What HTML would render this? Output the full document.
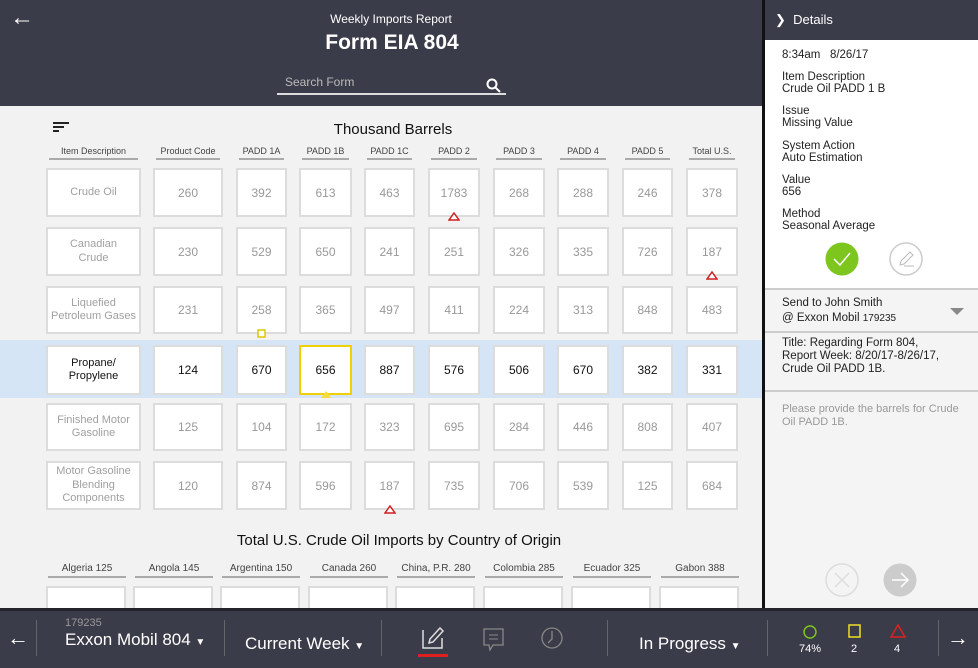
<!DOCTYPE html>
<html><head><meta charset="utf-8">
<style>
*{box-sizing:border-box;margin:0;padding:0}
body{width:978px;height:668px;overflow:hidden;background:#f2f2f2;font-family:"Liberation Sans",sans-serif;position:relative}
.abs{position:absolute}
.box{position:absolute;background:#fff;border:2px solid #dcdcdc;display:flex;align-items:center;justify-content:center;text-align:center;font-size:12px;color:#999;line-height:14px}
.hdr{position:absolute;font-size:9px;color:#444;text-align:center;border-bottom:2px solid #aaa;padding-bottom:2px}
.lbl{font-size:11.5px;color:#222;line-height:12px}
</style></head><body>
<div class="abs" style="left:0;top:0;width:762px;height:106px;background:#3b3c49"></div>
<div class="abs" style="left:10px;top:4px;color:#fff;font-size:24px">&#8592;</div>
<div class="abs" style="left:0;width:782px;top:12px;text-align:center;color:#fff;font-size:12px">Weekly Imports Report</div>
<div class="abs" style="left:0;width:784px;top:31px;text-align:center;color:#fff;font-size:21px;font-weight:bold">Form EIA 804</div>
<div class="abs" style="left:277px;top:75px;width:229px;height:20px;border-bottom:2px solid #ddd;color:#bbb;font-size:12px;padding-left:8px">Search Form</div>
<svg class="abs" style="left:486px;top:78px" width="16" height="16"><circle cx="6" cy="6" r="4.5" stroke="#fff" stroke-width="2" fill="none"/><line x1="9.5" y1="9.5" x2="14" y2="14" stroke="#fff" stroke-width="2"/></svg>

<svg class="abs" style="left:53px;top:122px" width="18" height="10"><rect x="0" y="0" width="16" height="2" fill="#222"/><rect x="0" y="4" width="11" height="2" fill="#222"/><rect x="0" y="8" width="6" height="2" fill="#222"/></svg>
<div class="abs" style="left:300px;width:186px;top:121px;text-align:center;font-size:15px;color:#111">Thousand Barrels</div>
<div class="abs" style="left:0;top:340px;width:762px;height:58px;background:#d6e5f5"></div>
<div id="table"></div>

<div class="abs" style="left:0;width:798px;top:532px;text-align:center;font-size:15px;color:#111">Total U.S. Crude Oil Imports by Country of Origin</div>
<div id="countries"></div>

<div class="abs" style="left:762px;top:0;width:3px;height:608px;background:#111"></div>
<div class="abs" style="left:765px;top:0;width:213px;height:608px;background:#f4f4f4"></div>
<div class="abs" style="left:765px;top:0;width:213px;height:40px;background:#3b3c49;color:#fff;font-size:13px;padding:12px 0 0 10px">&#x276F;&nbsp; Details</div>
<div class="abs" style="left:765px;top:40px;width:213px;height:248px;background:#fff"></div>
<div class="abs lbl" style="left:782px;top:49px">8:34am &nbsp;&nbsp;8/26/17</div>
<div class="abs lbl" style="left:782px;top:71px">Item Description<br>Crude Oil PADD 1 B</div>
<div class="abs lbl" style="left:782px;top:105px">Issue<br>Missing Value</div>
<div class="abs lbl" style="left:782px;top:140px">System Action<br>Auto Estimation</div>
<div class="abs lbl" style="left:782px;top:174px">Value<br>656</div>
<div class="abs lbl" style="left:782px;top:208px">Method<br>Seasonal Average</div>
<svg class="abs" style="left:825px;top:242px" width="34" height="34"><circle cx="17" cy="17" r="16.5" fill="#7dc61e"/><polyline points="9,17 15,23 25,11" stroke="#fff" stroke-width="1.5" fill="none"/></svg>
<svg class="abs" style="left:889px;top:242px" width="34" height="34"><circle cx="17" cy="17" r="16" fill="#fff" stroke="#ccc" stroke-width="1.5"/><path d="M11 23 L12 19 L21 10 L24 13 L15 22 Z" stroke="#bbb" fill="none"/><line x1="15" y1="24" x2="25" y2="24" stroke="#bbb"/></svg>
<div class="abs" style="left:765px;top:288px;width:213px;height:2px;background:#ccc"></div>
<div class="abs lbl" style="left:782px;top:296px;line-height:15px">Send to John Smith<br>@ Exxon Mobil <span style="font-size:10px">179235</span></div>
<svg class="abs" style="left:950px;top:308px" width="14" height="8"><polygon points="0,0 14,0 7,7" fill="#888"/></svg>
<div class="abs" style="left:765px;top:331px;width:213px;height:2px;background:#ccc"></div>
<div class="abs lbl" style="left:782px;top:337px;line-height:13px">Title: Regarding Form 804,<br>Report Week: 8/20/17-8/26/17,<br>Crude Oil PADD 1B.</div>
<div class="abs" style="left:765px;top:390px;width:213px;height:2px;background:#ccc"></div>
<div class="abs lbl" style="left:782px;top:403px;color:#999;line-height:13px;font-size:11px">Please provide the barrels for Crude<br>Oil PADD 1B.</div>
<svg class="abs" style="left:825px;top:563px" width="34" height="34"><circle cx="17" cy="17" r="16" fill="none" stroke="#ddd" stroke-width="1.5"/><line x1="10" y1="10" x2="24" y2="24" stroke="#ddd" stroke-width="1.5"/><line x1="24" y1="10" x2="10" y2="24" stroke="#ddd" stroke-width="1.5"/></svg>
<svg class="abs" style="left:883px;top:563px" width="34" height="34"><circle cx="17" cy="17" r="16.5" fill="#ccc"/><line x1="9" y1="17" x2="25" y2="17" stroke="#fff" stroke-width="1.5"/><polyline points="18,10 25,17 18,24" stroke="#fff" stroke-width="1.5" fill="none"/></svg>

<div class="abs" style="left:0;top:608px;width:978px;height:60px;background:#3b3c49;border-top:3px solid #23242c"></div>
<div class="abs" style="left:7px;top:625px;color:#fff;font-size:22px">&#8592;</div>
<div class="abs" style="left:36px;top:620px;width:1px;height:36px;background:#666"></div>
<div class="abs" style="left:65px;top:617px;color:#999;font-size:11px">179235</div>
<div class="abs" style="left:65px;top:630px;color:#fff;font-size:17px">Exxon Mobil 804 <span style="font-size:10px">&#9660;</span></div>
<div class="abs" style="left:224px;top:620px;width:1px;height:36px;background:#666"></div>
<div class="abs" style="left:245px;top:634px;color:#fff;font-size:17px">Current Week <span style="font-size:10px">&#9660;</span></div>
<div class="abs" style="left:381px;top:620px;width:1px;height:36px;background:#666"></div>
<svg class="abs" style="left:418px;top:624px" width="32" height="36"><path d="M5 6 L5 24 L24 24 L24 14" stroke="#ddd" stroke-width="1.5" fill="none"/><path d="M11 19 L12 15 L22 4 L25 7 L15 18 Z" stroke="#ddd" stroke-width="1.5" fill="none"/><rect x="0" y="30" width="30" height="3" fill="#e02020"/></svg>
<svg class="abs" style="left:483px;top:628px" width="22" height="24"><path d="M1 1 H20 V17 H10 L7 22 L6 17 H1 Z" stroke="#888" stroke-width="1.3" fill="none"/><line x1="6" y1="7" x2="15" y2="7" stroke="#888"/><line x1="6" y1="11" x2="15" y2="11" stroke="#888"/></svg>
<svg class="abs" style="left:541px;top:627px" width="22" height="22"><circle cx="11" cy="11" r="10" stroke="#888" stroke-width="1.3" fill="none"/><polyline points="11,4 11,12 7,16" stroke="#888" stroke-width="1.3" fill="none"/></svg>
<div class="abs" style="left:607px;top:620px;width:1px;height:36px;background:#666"></div>
<div class="abs" style="left:639px;top:634px;color:#fff;font-size:17px">In Progress <span style="font-size:10px">&#9660;</span></div>
<div class="abs" style="left:767px;top:620px;width:1px;height:36px;background:#666"></div>
<svg class="abs" style="left:802px;top:624px" width="16" height="16"><circle cx="8" cy="8" r="6" stroke="#7dc61e" stroke-width="1.5" fill="none"/></svg>
<div class="abs" style="left:799px;top:643px;color:#fff;font-size:11px">74%</div>
<svg class="abs" style="left:847px;top:623px" width="16" height="16"><rect x="2" y="2" width="11" height="12" stroke="#f0e020" stroke-width="1.5" fill="none"/></svg>
<div class="abs" style="left:851px;top:643px;color:#fff;font-size:11px">2</div>
<svg class="abs" style="left:889px;top:623px" width="18" height="16"><polygon points="9,2 16,14 2,14" stroke="#e02020" stroke-width="1.5" fill="none"/></svg>
<div class="abs" style="left:894px;top:643px;color:#fff;font-size:11px">4</div>
<div class="abs" style="left:938px;top:620px;width:1px;height:36px;background:#666"></div>
<div class="abs" style="left:947px;top:625px;color:#fff;font-size:22px">&#8594;</div>

<script>
const columns=["Item Description","Product Code","PADD 1A","PADD 1B","PADD 1C","PADD 2","PADD 3","PADD 4","PADD 5","Total U.S."];
const items=["Crude Oil","Canadian<br>Crude","Liquefied<br>Petroleum Gases","Propane/<br>Propylene","Finished Motor<br>Gasoline","Motor Gasoline<br>Blending<br>Components"];
const codes=[260,230,231,124,125,120];
const padd1a=[392,529,258,670,104,874];
const padd1b=[613,650,365,656,172,596];
const padd1c=[463,241,497,887,323,187];
const padd2=[1783,251,411,576,695,735];
const padd3=[268,326,224,506,284,706];
const padd4=[288,335,313,670,446,539];
const padd5=[246,726,848,382,808,125];
const totals=[378,187,483,331,407,684];
const countries=["Algeria 125","Angola 145","Argentina 150","Canada 260","China, P.R. 280","Colombia 285","Ecuador 325","Gabon 388"];

const colX=[46,153,236,299,364,428,493,557,622,686];
const colW=[95,70,51,53,51,52,52,52,51,52];
const rowY=[168,227,286,345,403,461];
const rowH=[49,49,48,50,48,49];
const T=document.getElementById('table');
columns.forEach((c,i)=>{
  const h=document.createElement('div');h.className='hdr';
  
  
  h.style.left=(colX[i]+3)+'px';h.style.width=(colW[i]-6)+'px';h.style.top='146px';h.textContent=c;T.appendChild(h);
});
const series=[items,codes,padd1a,padd1b,padd1c,padd2,padd3,padd4,padd5,totals];
items.forEach((_,r)=>{
  series.forEach((s,c)=>{
    const b=document.createElement('div');b.className='box';
    
    
    b.style.left=colX[c]+'px';b.style.top=rowY[r]+'px';b.style.width=colW[c]+'px';b.style.height=rowH[r]+'px';
    b.innerHTML=s[r];
    if(c===0){b.style.fontSize='11px';b.style.lineHeight='13.5px';b.style.color='#a0a0a0';}
    if(r===3){b.style.color='#111';}
    if(r===3&&c===3){b.style.border='2px solid #f0d000';}
    T.appendChild(b);
  });
});
function marker(type,col,row,name){
  const s=document.createElementNS('http://www.w3.org/2000/svg','svg');
  
  
  s.setAttribute('width','12');s.setAttribute('height','10');
  s.style.position='absolute';
  s.style.left=(colX[col]+colW[col]/2-6)+'px';s.style.top=(rowY[row]+rowH[row]-5)+'px';
  if(type==='tri')s.innerHTML='<polygon points="6,1 11,8 1,8" fill="#fff" stroke="#d02020" stroke-width="1.5"/>';
  else if(type==='sq')s.innerHTML='<rect x="2" y="1" width="7" height="7" fill="#fff" stroke="#e0c800" stroke-width="1.5"/>';
  else s.innerHTML='<polygon points="6,1 11,8 1,8" fill="#f5dc40"/>';
  T.appendChild(s);
}
marker('tri',5,0,'error-marker');marker('tri',9,1,'error-marker');marker('sq',2,2,'warning-marker');marker('ytri',3,3,'selected-marker');marker('tri',4,5,'error-marker');

const cX=[48,135,222,310,397,485,573,661];
const C=document.getElementById('countries');
countries.forEach((n,i)=>{
  const h=document.createElement('div');h.className='hdr';
  
  
  h.style.left=cX[i]+'px';h.style.width='78px';h.style.top='563px';h.style.fontSize='10px';h.textContent=n;C.appendChild(h);
  const b=document.createElement('div');b.className='box';
  
  
  b.style.left=(cX[i]-2)+'px';b.style.top='586px';b.style.width='80px';b.style.height='30px';C.appendChild(b);
});
</script>
</body></html>
